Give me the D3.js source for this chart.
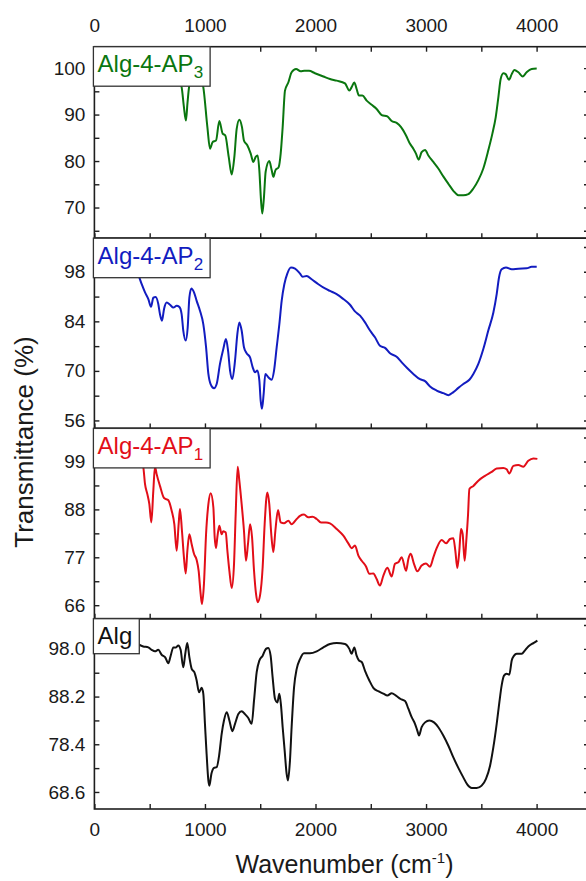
<!DOCTYPE html>
<html><head><meta charset="utf-8">
<script src="https://cdn.jsdelivr.net/npm/d3@7"></script>
<style>html,body{margin:0;padding:0;background:#fff;overflow:hidden} svg{display:block;font-family:"Liberation Sans",Arial,sans-serif}</style>
</head><body><svg id="c" width="586" height="881"></svg>
<script>
// ---- data ----
const xTicks = [0, 1000, 2000, 3000, 4000];
const xMinorTicks = [500, 1500, 2500, 3500, 4500];

const ap3Label = ["Alg-4-AP", "3"];
const ap3Ticks = [70, 80, 90, 100];
const ap3Minor = [65, 75, 85, 95];
const ap3Wn = [400,470,540,610,680,740,770,789,808,828,842,856,880,920,960,985,1022,1046,1070,1100,1130,1160,1184,1215,1242,1266,1287,1311,1335,1353,1383,1414,1438,1459,1477,1492,1507,1519,1534,1549,1582,1604,1619,1637,1667,1685,1703,1724,1754,1784,1824,1866,1899,1941,1995,2071,2131,2192,2267,2306,2327,2351,2372,2393,2424,2463,2508,2553,2599,2650,2689,2734,2774,2819,2855,2885,2909,2933,2960,2991,3021,3066,3111,3156,3202,3247,3292,3337,3383,3428,3473,3518,3563,3600,3630,3654,3675,3699,3720,3750,3775,3799,3835,3874,3910,3955,4001];
const ap3T = [99.0,99.3,99.0,99.2,98.6,98.0,97.0,95.9,92.0,88.7,92.5,95.9,98.5,99.0,97.8,95.9,87.3,82.65,84.1,84.4,88.6,85.9,85.5,80.9,77.1,80.9,86.9,88.9,87.3,84.4,83.4,81.6,79.8,80.9,81.2,78.0,71.6,68.7,72.3,77.7,80.0,78.0,76.6,78.0,78.7,81.6,87.3,95.15,96.9,99.1,99.8,99.3,99.4,99.4,98.9,98.2,97.65,97.3,96.7,95.15,95.9,96.9,95.5,94.1,94.1,93.0,92.1,91.2,89.9,89.6,88.6,88.2,87.3,85.5,83.7,82.65,81.6,80.3,81.9,82.4,81.2,79.8,78.4,76.7,75.1,73.6,72.65,72.65,72.9,74.1,75.9,78.4,82.3,85.9,89.4,93.7,97.65,98.9,98.7,97.5,98.7,99.6,99.1,98.2,99.1,99.8,99.9];

const ap2Label = ["Alg-4-AP", "2"];
const ap2Ticks = [56, 70, 84, 98];
const ap2Minor = [63, 77, 91, 105];
const ap2Wn = [400,428,458,488,512,533,554,578,593,611,630,654,684,714,744,768,789,804,826,844,859,877,901,925,955,985,1010,1031,1052,1082,1106,1136,1166,1190,1209,1227,1248,1272,1293,1311,1332,1353,1377,1408,1432,1453,1474,1492,1504,1516,1531,1546,1573,1603,1625,1649,1673,1694,1718,1745,1778,1815,1860,1884,1920,1965,2026,2086,2131,2191,2252,2312,2357,2403,2448,2493,2538,2583,2629,2674,2734,2780,2831,2885,2945,2991,3036,3096,3156,3202,3247,3292,3337,3392,3428,3473,3518,3563,3609,3639,3660,3684,3723,3775,3835,3910,3955,4001];
const ap2T = [97.0,94.5,92.2,90.3,88.1,90.7,90.9,88.9,86.05,84.2,87.5,89.3,88.7,87.9,88.4,88.1,86.05,81.4,78.6,82.3,90.7,93.3,92.2,89.8,87.0,83.2,76.7,69.15,66.2,65.1,66.3,72.0,76.2,79.0,75.7,70.1,67.7,72.9,80.4,83.7,81.4,76.7,75.0,73.8,71.0,69.6,70.1,67.3,61.6,59.3,63.5,69.15,68.2,67.5,70.1,76.7,83.2,89.8,94.5,97.5,99.2,98.9,97.5,96.6,96.85,95.9,94.5,93.3,92.6,91.7,90.3,88.7,86.8,85.6,83.7,81.4,79.5,77.1,76.5,75.0,74.0,72.4,70.75,69.15,67.65,67.1,65.6,64.45,63.7,63.15,64.0,65.2,66.3,67.5,69.15,72.0,76.2,81.4,86.5,91.7,96.4,98.7,99.2,98.7,98.9,99.0,99.4,99.4];

const ap1Label = ["Alg-4-AP", "1"];
const ap1Ticks = [66, 77, 88, 99];
const ap1Minor = [71.5, 82.5, 93.5, 104.5];
const ap1Wn = [400,420,443,458,479,497,515,533,548,563,593,630,669,699,723,744,762,774,792,810,826,841,859,880,901,925,943,961,973,991,1010,1031,1052,1076,1088,1100,1112,1130,1151,1166,1188,1203,1221,1242,1263,1278,1296,1311,1332,1353,1371,1389,1408,1426,1444,1462,1477,1498,1522,1540,1564,1582,1600,1619,1637,1661,1685,1715,1754,1784,1830,1860,1896,1935,1974,2011,2050,2095,2131,2192,2252,2297,2327,2357,2388,2418,2457,2487,2523,2553,2583,2614,2650,2689,2719,2749,2780,2819,2840,2861,2891,2921,2960,2999,3036,3066,3096,3141,3181,3217,3247,3265,3283,3301,3316,3331,3349,3364,3380,3392,3428,3473,3533,3594,3639,3699,3729,3753,3790,3835,3880,3925,3971,4007];
const ap1T = [100.0,99.5,97.6,93.8,91.5,89.2,85.0,92.3,97.8,96.1,93.4,90.6,90.1,87.7,84.6,78.5,84.6,88.1,83.1,77.0,73.3,78.5,82.3,80.0,77.8,76.4,73.9,68.6,66.3,70.9,82.3,89.2,91.7,88.5,81.6,79.1,81.6,84.25,82.3,83.0,82.7,78.5,73.9,69.95,75.5,86.9,97.8,94.6,89.2,83.1,76.2,80.0,84.6,81.6,73.9,68.6,66.7,68.2,74.7,84.6,91.9,89.2,82.3,78.2,83.1,87.85,85.0,84.8,85.4,84.6,85.8,86.5,86.8,86.2,86.3,85.8,85.0,85.0,84.8,83.5,81.96,80.2,79.1,79.7,77.4,76.2,74.9,73.2,73.3,72.0,70.5,72.8,74.6,72.6,75.5,75.85,77.0,73.9,76.6,77.8,75.5,73.8,75.1,75.6,74.85,77.0,79.1,81.0,80.2,81.2,81.4,78.5,74.55,78.5,83.5,82.35,76.2,80.8,86.9,92.7,93.4,94.6,95.7,96.6,97.4,97.5,97.2,96.25,98.0,98.2,97.8,99.15,99.7,99.6];

const algLabel = ["Alg", ""];
const algTicks = [68.6, 78.4, 88.2, 98.0];
const algMinor = [73.5, 83.3, 93.1, 102.9];
const algWn = [400,442,488,518,548,578,608,639,669,690,714,738,759,780,804,822,840,859,880,904,925,946,970,985,1000,1015,1031,1040,1058,1082,1106,1130,1151,1172,1197,1221,1248,1272,1302,1332,1362,1392,1423,1444,1468,1492,1522,1552,1573,1594,1612,1634,1655,1673,1688,1703,1721,1739,1751,1769,1784,1806,1830,1860,1896,1950,2011,2071,2131,2192,2267,2306,2327,2351,2372,2393,2418,2448,2487,2523,2568,2614,2650,2689,2728,2770,2810,2840,2870,2900,2921,2936,2960,2991,3030,3072,3111,3156,3202,3247,3292,3337,3374,3413,3458,3503,3542,3579,3609,3639,3663,3684,3705,3729,3753,3775,3796,3820,3865,3895,3925,3971,4007];
const algT = [98.9,98.5,98.3,97.8,97.5,97.8,96.8,96.3,95.05,96.6,98.3,98.3,98.7,97.8,94.2,97.0,99.2,96.3,93.9,93.2,91.5,89.1,90.0,88.8,82.6,76.4,70.95,69.9,72.3,73.55,73.7,76.4,80.5,83.3,85.0,83.3,81.1,82.6,84.6,85.2,84.6,83.8,82.6,87.4,93.2,95.6,96.6,98.0,98.2,96.6,92.2,87.7,87.0,88.8,86.4,81.9,77.1,72.3,70.95,75.05,81.9,90.1,93.9,95.9,97.1,97.1,97.5,98.3,99.0,99.2,99.0,98.0,97.0,98.3,96.6,95.6,95.3,93.5,91.5,90.0,89.3,88.8,88.4,88.9,88.4,87.7,87.3,85.7,83.96,82.6,81.2,80.2,81.9,82.9,83.3,82.9,81.9,80.2,78.1,75.7,73.55,71.6,70.1,69.4,69.4,69.9,71.3,74.0,77.8,82.6,87.0,90.5,92.5,92.9,92.7,95.6,96.6,97.0,97.0,97.7,98.5,99.2,99.7];

// ---- layout ----
const svg = d3.select("#c");
const xLeft = 94.4, xRight = 589;
const x = d3.scaleLinear().domain([0, (xRight - xLeft) / 0.11055]).range([xLeft, xRight]);
const frameColor = "#1e1e1e";
const tickFont = 19;

const panels = [
  {top: 46.7, bottom: 238.2, dom: [63.4, 104.6], wn: ap3Wn, t: ap3T, ticks: ap3Ticks, minor: ap3Minor, label: ap3Label, color: "#0a760f", fmt: d3.format("d")},
  {top: 238.2, bottom: 428.4, dom: [53.75, 107.5], wn: ap2Wn, t: ap2T, ticks: ap2Ticks, minor: ap2Minor, label: ap2Label, color: "#121cc0", fmt: d3.format("d")},
  {top: 428.4, bottom: 618.7, dom: [62.9, 106.6], wn: ap1Wn, t: ap1T, ticks: ap1Ticks, minor: ap1Minor, label: ap1Label, color: "#e20e18", fmt: d3.format("d")},
  {top: 618.7, bottom: 809, dom: [65.1, 104.2], wn: algWn, t: algT, ticks: algTicks, minor: algMinor, label: algLabel, color: "#111111", fmt: d3.format(".1f")}
];

function styleAxis(g) {
  g.select(".domain").remove();
  g.selectAll(".tick line").attr("stroke", frameColor).attr("stroke-width", 1.4);
  g.selectAll(".tick text").attr("fill", "#1a1a1a").style("font-size", tickFont + "px").style("font-family", '"Liberation Sans",Arial,sans-serif');
}

panels.forEach((p, i) => {
  const y = d3.scaleLinear().domain(p.dom).range([p.bottom, p.top]);
  const g = svg.append("g");

  // curve
  const pts = p.wn.map((w, k) => [w, p.t[k]]);
  g.append("path").datum(pts)
    .attr("fill", "none").attr("stroke", p.color).attr("stroke-width", 2).attr("stroke-linejoin", "round")
    .attr("d", d3.line().x(d => x(d[0])).y(d => y(d[1])).curve(d3.curveMonotoneX));

  // left axis (inward ticks)
  g.append("g").attr("transform", `translate(${xLeft},0)`)
    .call(d3.axisLeft(y).tickValues(p.ticks).tickFormat(p.fmt).tickSize(-5).tickPadding(9)).call(styleAxis);
  g.append("g").attr("transform", `translate(${xLeft},0)`)
    .call(d3.axisLeft(y).tickValues(p.minor).tickFormat("").tickSize(-5)).call(styleAxis);
  // right axis
  g.append("g").attr("transform", `translate(${xRight},0)`)
    .call(d3.axisRight(y).tickValues(p.ticks.concat(p.minor)).tickFormat("").tickSize(-5)).call(styleAxis);
  // bottom axis ticks
  const last = i === panels.length - 1;
  g.append("g").attr("transform", `translate(0,${p.bottom})`)
    .call(d3.axisBottom(x).tickValues(xTicks).tickFormat(last ? d3.format("d") : "").tickSize(-5).tickPadding(14)).call(styleAxis);
  g.append("g").attr("transform", `translate(0,${p.bottom})`)
    .call(d3.axisBottom(x).tickValues(xMinorTicks).tickFormat("").tickSize(-5)).call(styleAxis);
  if (i === 0) {
    g.append("g").attr("transform", `translate(0,${p.top})`)
      .call(d3.axisTop(x).tickValues(xTicks).tickFormat(d3.format("d")).tickSize(-5).tickPadding(15)).call(styleAxis);
    g.append("g").attr("transform", `translate(0,${p.top})`)
      .call(d3.axisTop(x).tickValues(xMinorTicks).tickFormat("").tickSize(-5)).call(styleAxis);
  }

  // frame
  g.append("rect").attr("x", xLeft).attr("y", p.top).attr("width", xRight - xLeft).attr("height", p.bottom - p.top)
    .attr("fill", "none").attr("stroke", frameColor).attr("stroke-width", 1.6);

  // label box
  const lb = g.append("g");
  const box = lb.append("rect");
  const txt = lb.append("text").attr("x", xLeft + 3.2).attr("y", p.top + 25.5)
    .attr("fill", p.color).style("font-size", "24px");
  txt.append("tspan").text(p.label[0]);
  if (p.label[1]) txt.append("tspan").attr("dy", 6).style("font-size", "17px").text(p.label[1]);
  const bb = txt.node().getBBox();
  const bh = p.label[1] ? 39.5 : 35;
  box.attr("x", xLeft - 1).attr("y", p.top).attr("width", bb.x + bb.width + 7 - (xLeft - 1)).attr("height", bh)
    .attr("fill", "#fff").attr("stroke", "#333").attr("stroke-width", 1.3);
});

// axis titles
svg.append("text").attr("x", 344.5).attr("y", 873).attr("text-anchor", "middle")
  .attr("fill", "#1a1a1a").style("font-size", "25px")
  .call(t => { t.append("tspan").text("Wavenumber (cm"); t.append("tspan").attr("dy", -10).style("font-size", "15px").text("-1"); t.append("tspan").attr("dy", 10).text(")"); });
svg.append("text").attr("transform", "translate(33,442) rotate(-90)").attr("text-anchor", "middle")
  .attr("fill", "#1a1a1a").style("font-size", "26px").text("Transmittance (%)");
</script>
</body></html>
